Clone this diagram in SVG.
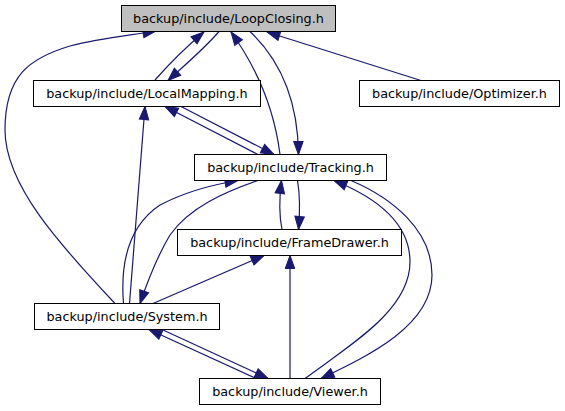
<svg xmlns="http://www.w3.org/2000/svg" width="565" height="411" viewBox="0 0 565 411">
<style>
.node rect{fill:#ffffff;stroke:#000000;stroke-width:1}
#n_loopclosing rect{fill:#bfbfbf}
.node text{font-family:"DejaVu Sans",sans-serif;font-size:12.8px;text-anchor:middle;fill:#000000}
.edge{fill:none;stroke:#191970;stroke-width:1.2;marker-end:url(#ah)}
</style>
<defs>
<marker id="ah" markerUnits="userSpaceOnUse" markerWidth="15" markerHeight="12" viewBox="-1 -1 15 12" refX="13" refY="4.75" orient="auto">
<polygon points="0,0 13,4.75 0,9.5" fill="#191970" stroke="#191970" stroke-width="1"/>
</marker>
</defs>
<rect width="565" height="411" fill="#ffffff"/>
<g id="edges">
<path class="edge" d="M155,80 C170,63 186,47 204,32"/>
<path class="edge" d="M219,31.5 C205,48 186,64 168,80.5"/>
<path class="edge" d="M280,154.5 C275,115 262,75 231,32"/>
<path class="edge" d="M250,31.5 C280,60 298,100 298.5,154.5"/>
<path class="edge" d="M421,80.5 L267,32"/>
<path class="edge" d="M115,303.5 C60,245 5,185 5,130 C5,75 30,58 70,46 C100,38 125,36 156,31"/>
<path class="edge" d="M258,154.5 L165,106.5"/>
<path class="edge" d="M181,106.5 L274,154.5"/>
<path class="edge" d="M129.5,303.5 L145,106.5"/>
<path class="edge" d="M123.5,303.5 C120,260 130,225 160,205 C185,192 210,185 238,180.5"/>
<path class="edge" d="M258,180.5 C225,192 190,207 170,235 C158,255 148,280 140,303.5"/>
<path class="edge" d="M282,229.5 C279,215 279,200 281.5,180.5"/>
<path class="edge" d="M297.5,180.5 C300,195 300,212 298.5,229.5"/>
<path class="edge" d="M153,303.5 L264,255.5"/>
<path class="edge" d="M290,378.5 L290,255.5"/>
<path class="edge" d="M305,378.5 C350,345 410,310 410,262 C410,220 370,195 334,180.5"/>
<path class="edge" d="M351,180.5 C392,198 432,230 432,275 C432,325 370,355 321,378.5"/>
<path class="edge" d="M256,378.5 L149,329.5"/>
<path class="edge" d="M162,329.5 L268,378.5"/>
</g>
<g id="n_loopclosing" class="node"><rect x="121.5" y="5.5" width="214" height="26"/><text x="228.5" y="22.9">backup/include/LoopClosing.h</text></g>
<g id="n_localmapping" class="node"><rect x="33.5" y="80.5" width="227" height="26"/><text x="147" y="97.9">backup/include/LocalMapping.h</text></g>
<g id="n_optimizer" class="node"><rect x="359.5" y="80.5" width="200" height="26"/><text x="459.5" y="97.9">backup/include/Optimizer.h</text></g>
<g id="n_tracking" class="node"><rect x="194.5" y="154.5" width="192" height="26"/><text x="290.5" y="171.9">backup/include/Tracking.h</text></g>
<g id="n_framedrawer" class="node"><rect x="177.5" y="229.5" width="224" height="26"/><text x="289.5" y="246.9">backup/include/FrameDrawer.h</text></g>
<g id="n_system" class="node"><rect x="34.5" y="303.5" width="185" height="26"/><text x="127" y="320.9">backup/include/System.h</text></g>
<g id="n_viewer" class="node"><rect x="199.5" y="378.5" width="181" height="26"/><text x="290" y="395.9">backup/include/Viewer.h</text></g>
</svg>
